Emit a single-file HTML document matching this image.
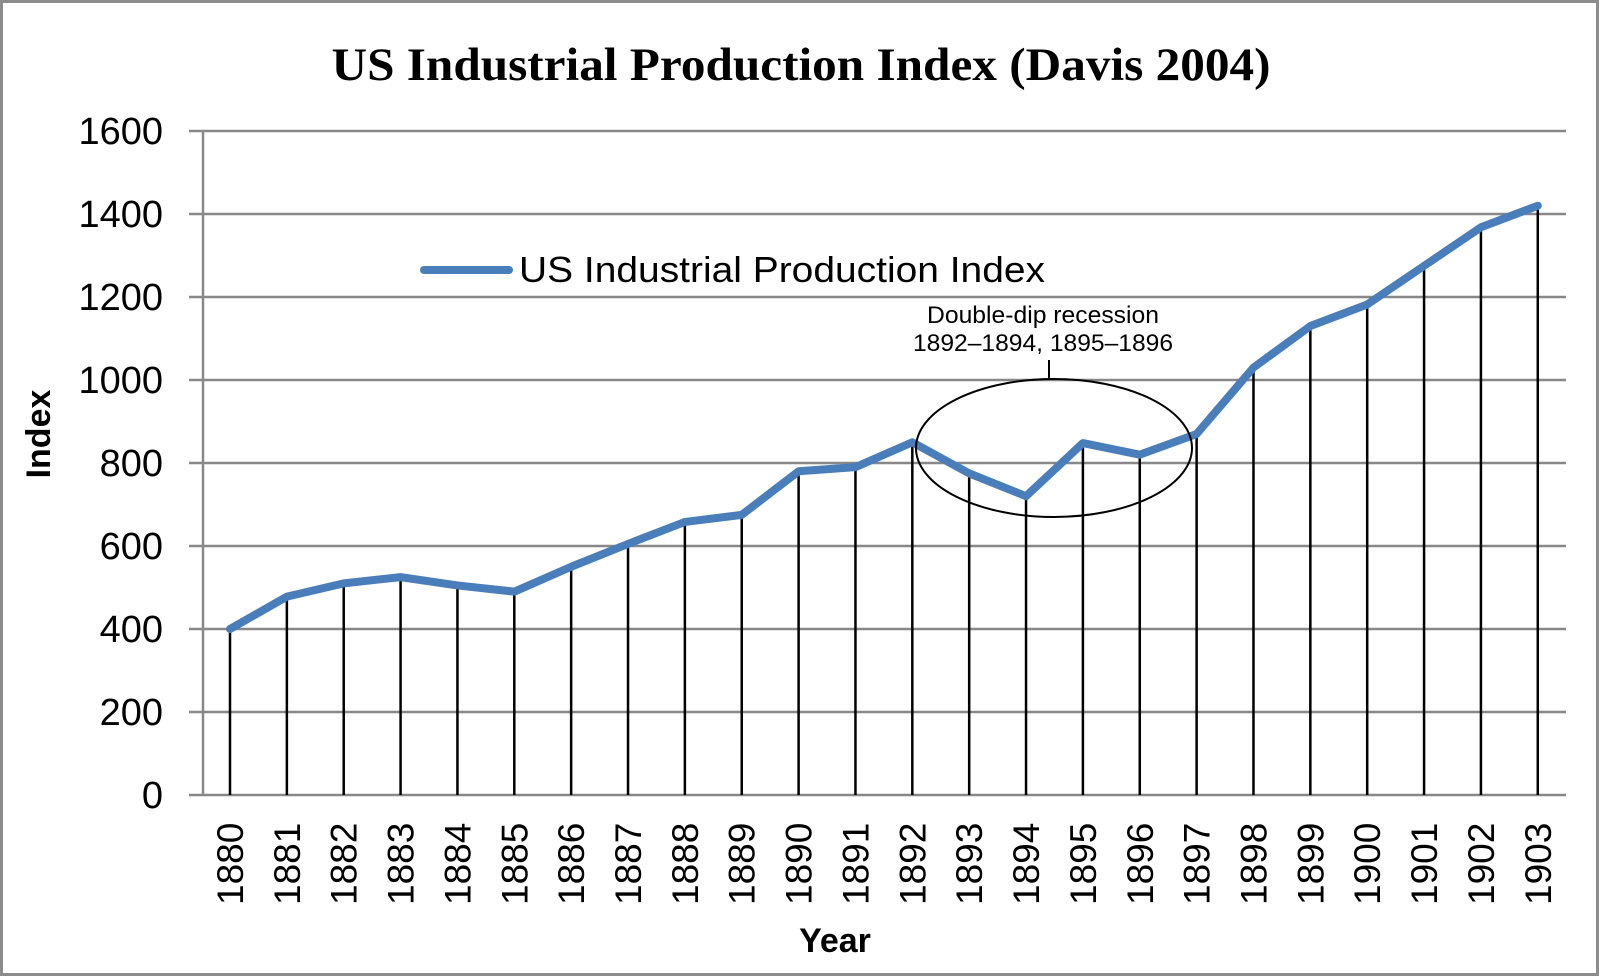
<!DOCTYPE html>
<html><head><meta charset="utf-8"><style>
html,body{margin:0;padding:0;background:#fff}
svg{display:block}
</style></head><body>
<svg id="chart" width="1600" height="977" viewBox="0 0 1600 977" xmlns="http://www.w3.org/2000/svg">
<rect x="1.5" y="1.5" width="1596" height="973" fill="#fff" stroke="#8c8c8c" stroke-width="3"/>
<text x="801" y="80" text-anchor="middle" textLength="939" lengthAdjust="spacingAndGlyphs" font-family="Liberation Serif, serif" font-weight="bold" font-size="47">US Industrial Production Index (Davis 2004)</text>
<g id="grid"></g>
<g id="yticks"></g>
<g id="xticks"></g>
<g id="drops"></g>
<g id="series"></g>
<text transform="translate(50,434) rotate(-90)" text-anchor="middle" font-family="Liberation Sans, sans-serif" font-weight="bold" font-size="34">Index</text>
<text x="835" y="952" text-anchor="middle" font-family="Liberation Sans, sans-serif" font-weight="bold" font-size="34">Year</text>
<g>
<line x1="424" y1="270" x2="509" y2="270" stroke="#4a7ebb" stroke-width="8" stroke-linecap="round"/>
<text x="519" y="282" textLength="526" lengthAdjust="spacingAndGlyphs" font-family="Liberation Sans, sans-serif" font-size="36">US Industrial Production Index</text>
</g>
<g>
<text x="1043" y="323" text-anchor="middle" textLength="232" lengthAdjust="spacingAndGlyphs" font-family="Liberation Sans, sans-serif" font-size="24">Double-dip recession</text>
<text x="1043" y="351" text-anchor="middle" textLength="260" lengthAdjust="spacingAndGlyphs" font-family="Liberation Sans, sans-serif" font-size="24">1892–1894, 1895–1896</text>
<line x1="1049" y1="360" x2="1049" y2="379" stroke="#000" stroke-width="2"/>
<ellipse cx="1054" cy="448" rx="138" ry="69" fill="none" stroke="#000" stroke-width="2"/>
</g>
</svg>
<script>
const years = [1880,1881,1882,1883,1884,1885,1886,1887,1888,1889,1890,1891,1892,1893,1894,1895,1896,1897,1898,1899,1900,1901,1902,1903];
const values = [400,478,510,525,505,490,550,605,658,675,780,790,850,775,720,848,820,870,1030,1130,1182,1275,1368,1420];
const yTicks = [0,200,400,600,800,1000,1200,1400,1600];

const NS = 'http://www.w3.org/2000/svg';
function xPos(i){ return 230 + i * 56.86; }
function yPos(v){ return 795 - v * (664 / 1600); }
function mk(tag, attrs, parent){
  const e = document.createElementNS(NS, tag);
  for (const k in attrs) e.setAttribute(k, attrs[k]);
  parent.appendChild(e);
  return e;
}
const grid = document.getElementById('grid');
const yt = document.getElementById('yticks');
yTicks.forEach(function(v){
  const l = mk('line', {x1:189, x2:1566, y1:yPos(v), y2:yPos(v), stroke:'#888', 'stroke-width':2.5}, grid);
  
  
  const t = mk('text', {x:163, y:yPos(v)+13, 'text-anchor':'end', 'font-family':'Liberation Sans, sans-serif', 'font-size':38}, yt);
  t.textContent = v;
  
  
});
const ax = mk('line', {x1:203, x2:203, y1:yPos(1600), y2:yPos(0), stroke:'#888', 'stroke-width':2.5}, grid);



const xt = document.getElementById('xticks');
const drops = document.getElementById('drops');
years.forEach(function(y, i){
  const x = xPos(i);
  const t = mk('text', {transform:'translate(' + (x+13) + ',905) rotate(-90)', 'font-family':'Liberation Sans, sans-serif', 'font-size':37}, xt);
  t.textContent = y;
  
  
  const d = mk('line', {x1:x, x2:x, y1:yPos(values[i]), y2:yPos(0), stroke:'#000', 'stroke-width':2.5}, drops);
  
  
});

const series = document.getElementById('series');
const pts = values.map(function(v, i){ return xPos(i) + ',' + yPos(v); }).join(' ');
const pl = mk('polyline', {points:pts, fill:'none', stroke:'#4a7ebb', 'stroke-width':8, 'stroke-linejoin':'round', 'stroke-linecap':'round'}, series);


</script>
</body></html>
